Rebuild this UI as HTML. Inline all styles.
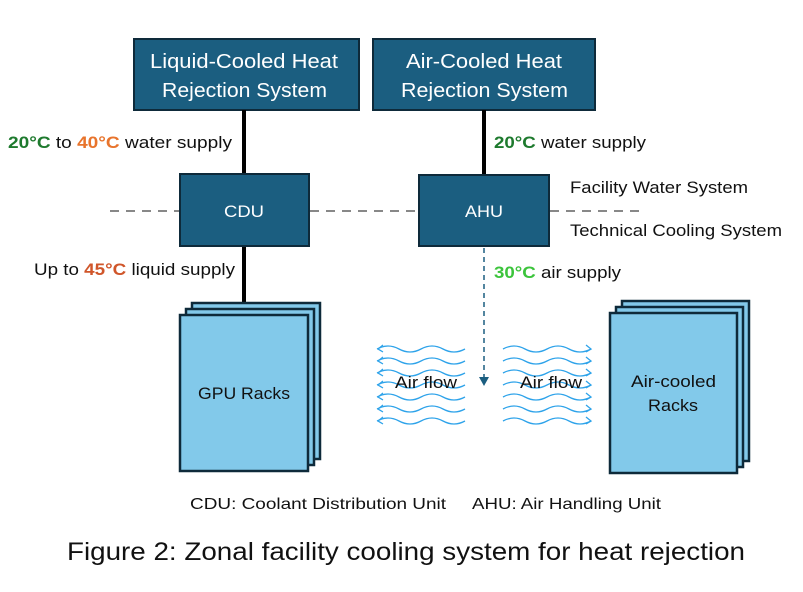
<!DOCTYPE html>
<html><head><style>body{margin:0;background:#fff}svg{display:block}text{font-family:"Liberation Sans",sans-serif}</style></head><body>
<svg width="803" height="592" viewBox="0 0 803 592">
<defs>
<path id="wl" d="M0 0 q11 -6 22 0 t22 0 t22 0 t22 0" fill="none" stroke="#2ea3ea" stroke-width="1.3"/>
</defs>
<rect x="134" y="39" width="225" height="71" fill="#1b5e80" stroke="#0e2a3a" stroke-width="2"/>
<rect x="373" y="39" width="222" height="71" fill="#1b5e80" stroke="#0e2a3a" stroke-width="2"/>
<text x="150" y="68" fill="#fff" font-size="20" textLength="188" lengthAdjust="spacingAndGlyphs">Liquid-Cooled Heat</text>
<text x="162" y="97" fill="#fff" font-size="20" textLength="165" lengthAdjust="spacingAndGlyphs">Rejection System</text>
<text x="406" y="68" fill="#fff" font-size="20" textLength="156" lengthAdjust="spacingAndGlyphs">Air-Cooled Heat</text>
<text x="401" y="97" fill="#fff" font-size="20" textLength="167" lengthAdjust="spacingAndGlyphs">Rejection System</text>
<line x1="244" y1="110" x2="244" y2="316" stroke="#000" stroke-width="4"/>
<line x1="484" y1="110" x2="484" y2="176" stroke="#000" stroke-width="4"/>
<line x1="110" y1="211" x2="180" y2="211" stroke="#888" stroke-width="2" stroke-dasharray="9,7"/>
<line x1="310" y1="211" x2="419" y2="211" stroke="#888" stroke-width="2" stroke-dasharray="9,7"/>
<line x1="550" y1="211" x2="645" y2="211" stroke="#888" stroke-width="2" stroke-dasharray="9,7"/>
<rect x="180" y="174" width="129" height="72" fill="#1b5e80" stroke="#0e2a3a" stroke-width="2"/>
<rect x="419" y="175" width="130" height="71" fill="#1b5e80" stroke="#0e2a3a" stroke-width="2"/>
<text x="224" y="217" fill="#fff" font-size="17" textLength="40" lengthAdjust="spacingAndGlyphs">CDU</text>
<text x="465" y="217" fill="#fff" font-size="17" textLength="38" lengthAdjust="spacingAndGlyphs">AHU</text>
<text x="8" y="148" font-size="17" textLength="224" lengthAdjust="spacingAndGlyphs"><tspan fill="#1e7a2e" font-weight="bold">20°C</tspan><tspan fill="#111">  to </tspan><tspan fill="#e8742c" font-weight="bold">40°C</tspan><tspan fill="#111"> water supply</tspan></text>
<text x="494" y="148" font-size="17" textLength="152" lengthAdjust="spacingAndGlyphs"><tspan fill="#1e7a2e" font-weight="bold">20°C</tspan><tspan fill="#111"> water supply</tspan></text>
<text x="34" y="275" font-size="17" fill="#111" textLength="201" lengthAdjust="spacingAndGlyphs">Up to <tspan fill="#d0562a" font-weight="bold">45°C</tspan> liquid supply</text>
<text x="494" y="278" font-size="17" textLength="127" lengthAdjust="spacingAndGlyphs"><tspan fill="#3cc43c" font-weight="bold">30°C</tspan><tspan fill="#111"> air supply</tspan></text>
<text x="570" y="193" font-size="17" fill="#111" textLength="178" lengthAdjust="spacingAndGlyphs">Facility Water System</text>
<text x="570" y="236" font-size="17" fill="#111" textLength="212" lengthAdjust="spacingAndGlyphs">Technical Cooling System</text>
<line x1="484" y1="248" x2="484" y2="378" stroke="#1b5e80" stroke-width="1.5" stroke-dasharray="5,4"/>
<polygon points="479,377 489,377 484,386" fill="#1b5e80"/>
<g fill="#82c9ea" stroke="#0e2a3a" stroke-width="2.5">
<rect x="192" y="303" width="128" height="156"/>
<rect x="186" y="309" width="128" height="156"/>
<rect x="180" y="315" width="128" height="156"/>
<rect x="622" y="301" width="127" height="160"/>
<rect x="616" y="307" width="127" height="160"/>
<rect x="610" y="313" width="127" height="160"/>
</g>
<text x="198" y="399" font-size="17" fill="#111" textLength="92" lengthAdjust="spacingAndGlyphs">GPU Racks</text>
<text x="631" y="387" font-size="17" fill="#111" textLength="85" lengthAdjust="spacingAndGlyphs">Air-cooled</text>
<text x="648" y="411" font-size="17" fill="#111" textLength="50" lengthAdjust="spacingAndGlyphs">Racks</text>
<g>
<use href="#wl" x="377" y="349"/><use href="#wl" x="377" y="361"/><use href="#wl" x="377" y="373"/><use href="#wl" x="377" y="385"/><use href="#wl" x="377" y="397"/><use href="#wl" x="377" y="409"/><use href="#wl" x="377" y="421"/>
<use href="#wl" x="503" y="349"/><use href="#wl" x="503" y="361"/><use href="#wl" x="503" y="373"/><use href="#wl" x="503" y="385"/><use href="#wl" x="503" y="397"/><use href="#wl" x="503" y="409"/><use href="#wl" x="503" y="421"/>
</g>
<g stroke="#2ea3ea" stroke-width="1.3" fill="none">
<path d="M383 345 l-5 4 l5 3 M383 357 l-5 4 l5 3 M383 369 l-5 4 l5 3 M383 381 l-5 4 l5 3 M383 393 l-5 4 l5 3 M383 405 l-5 4 l5 3 M383 417 l-5 4 l5 3"/>
<path d="M586 345 l5 4 l-5 3 M586 357 l5 4 l-5 3 M586 369 l5 4 l-5 3 M586 381 l5 4 l-5 3 M586 393 l5 4 l-5 3 M586 405 l5 4 l-5 3 M586 417 l5 4 l-5 3"/>
</g>
<text x="395" y="388" font-size="17" fill="#111" textLength="62" lengthAdjust="spacingAndGlyphs">Air flow</text>
<text x="520" y="388" font-size="17" fill="#111" textLength="62" lengthAdjust="spacingAndGlyphs">Air flow</text>
<text x="190" y="509" font-size="16" fill="#111" textLength="256" lengthAdjust="spacingAndGlyphs">CDU: Coolant Distribution Unit</text>
<text x="472" y="509" font-size="16" fill="#111" textLength="189" lengthAdjust="spacingAndGlyphs">AHU: Air Handling Unit</text>
<text x="67" y="560" font-size="25" fill="#111" textLength="678" lengthAdjust="spacingAndGlyphs">Figure 2: Zonal facility cooling system for heat rejection</text>
</svg>
</body></html>
